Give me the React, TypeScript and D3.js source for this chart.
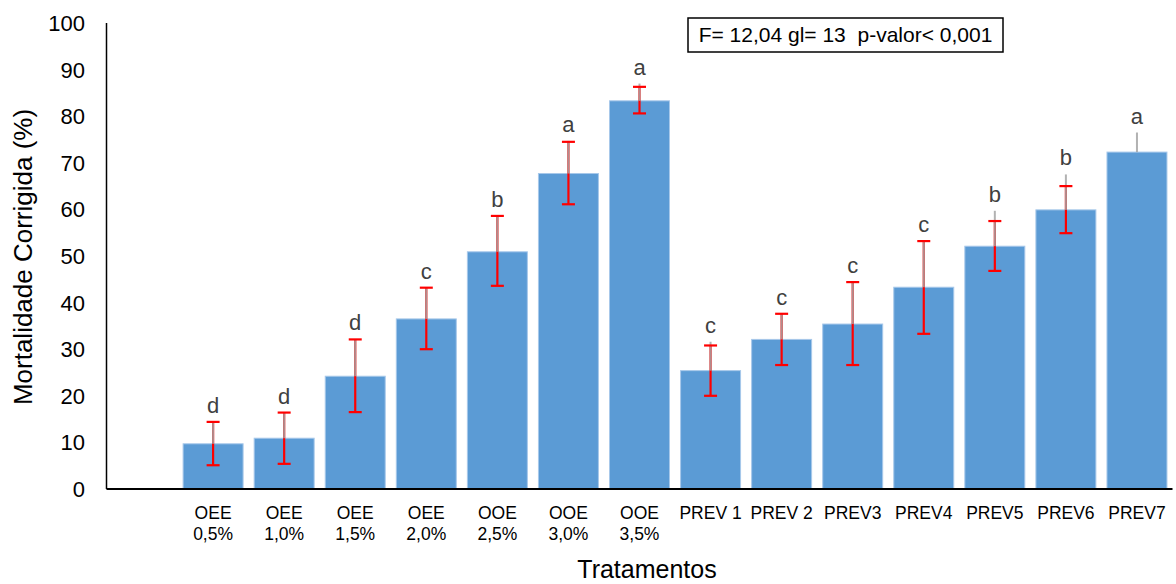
import React from "react";
import * as d3 from "d3";

// treatments (first slot is empty in the original chart)
const categories = [
  "",
  "OEE\n0,5%",
  "OEE\n1,0%",
  "OEE\n1,5%",
  "OEE\n2,0%",
  "OOE\n2,5%",
  "OOE\n3,0%",
  "OOE\n3,5%",
  "PREV 1",
  "PREV 2",
  "PREV3",
  "PREV4",
  "PREV5",
  "PREV6",
  "PREV7",
];
// corrected mortality (%)
const means = [null, 9.7, 10.9, 24.2, 36.5, 50.9, 67.7, 83.3, 25.4, 32.1, 35.4, 43.3, 52.1, 59.9, 72.3];
// red error bars (low / high)
const errLow = [null, 5.1, 5.4, 16.5, 30.0, 43.6, 61.1, 80.6, 20.0, 26.6, 26.6, 33.3, 46.8, 54.9, null];
const errHigh = [null, 14.4, 16.4, 32.1, 43.2, 58.6, 74.5, 86.3, 30.8, 37.6, 44.4, 53.2, 57.5, 65.0, null];
// grey (upper only) error bars
const greyHigh = [null, 14.4, 16.4, 32.1, 43.2, 58.6, 74.7, 87.0, 31.6, 37.6, 44.4, 53.2, 59.7, 67.5, 76.5];
// Tukey letters
const letters = ["", "d", "d", "d", "c", "b", "a", "a", "c", "c", "c", "c", "b", "b", "a"];
const yTicks = [0, 10, 20, 30, 40, 50, 60, 70, 80, 90, 100];
const statsText = "F= 12,04 gl= 13  p-valor< 0,001";

export default function App() {
  const width = 1176,
    height = 584;
  const left = 106.5,
    right = 1172.5,
    top = 23,
    bottom = 489;

  const x = d3.scaleBand<string>().domain(categories).range([left, right]).paddingInner(0.156).paddingOuter(0.078);
  const y = d3.scaleLinear().domain([0, 100]).range([bottom, top]);
  const font = "Arial, 'Liberation Sans', sans-serif";
  const bw = x.bandwidth();

  return (
    <svg width={width} height={height} style={{ position: "absolute", left: 0, top: 0, background: "#fff" }} fontFamily={font}>
      {/* bars */}
      {categories.map((c, i) => {
        const v = means[i];
        if (v == null) return null;
        return (
          <rect key={"b" + i} x={x(c)} y={y(v)} width={bw} height={y(0) - y(v)} fill="#5B9BD5" stroke="#a7c8ea" strokeWidth={1} />
        );
      })}

      {/* error bars */}
      {categories.map((c, i) => {
        const v = means[i];
        if (v == null) return null;
        const cx = (x(c) as number) + bw / 2;
        const lo = errLow[i],
          hi = errHigh[i],
          g = greyHigh[i];
        return (
          <g key={"e" + i}>
            {lo != null && hi != null && (
              <line x1={cx} x2={cx} y1={y(lo)} y2={y(hi)} stroke="#ff0000" strokeWidth={2.2} />
            )}
            {g != null && <line x1={cx} x2={cx} y1={y(v)} y2={y(g)} stroke="#a5a5a5" strokeWidth={2} opacity={0.85} />}
            {lo != null && hi != null && (
              <g stroke="#ff0000" strokeWidth={2.2}>
                <line x1={cx - 6.5} x2={cx + 6.5} y1={y(lo)} y2={y(lo)} />
                <line x1={cx - 6.5} x2={cx + 6.5} y1={y(hi)} y2={y(hi)} />
              </g>
            )}
          </g>
        );
      })}

      {/* letters */}
      {categories.map((c, i) => {
        if (!letters[i]) return null;
        const topVal = Math.max(errHigh[i] ?? 0, greyHigh[i] ?? 0, means[i] ?? 0);
        return (
          <text key={"l" + i} x={(x(c) as number) + bw / 2} y={y(topVal) - 9} textAnchor="middle" fontSize={22} fill="#404040">
            {letters[i]}
          </text>
        );
      })}

      {/* axes */}
      <line x1={left} x2={left} y1={top} y2={bottom} stroke="#000" strokeWidth={1.5} />
      <line x1={left} x2={right} y1={bottom} y2={bottom} stroke="#000" strokeWidth={2} />
      {yTicks.map((t) => (
        <text key={"t" + t} x={85} y={y(t)} dy="0.36em" textAnchor="end" fontSize={22} fill="#000">
          {t}
        </text>
      ))}
      {categories.map((c, i) =>
        c.split("\n").map((line, j) => (
          <text key={"c" + i + j} x={(x(c) as number) + bw / 2} y={519 + j * 21} textAnchor="middle" fontSize={17.5} fill="#000">
            {line}
          </text>
        ))
      )}

      {/* titles */}
      <text transform="translate(32,257) rotate(-90)" textAnchor="middle" fontSize={26} fill="#000">
        Mortalidade Corrigida (%)
      </text>
      <text x={647} y={578} textAnchor="middle" fontSize={25} fill="#000">
        Tratamentos
      </text>

      {/* stats box */}
      <rect x={688} y={18} width={315} height={34} fill="#fff" stroke="#000" strokeWidth={1.5} />
      <text x={845.5} y={42} textAnchor="middle" fontSize={21} fill="#000" style={{ whiteSpace: "pre" }}>
        {statsText}
      </text>
    </svg>
  );
}
